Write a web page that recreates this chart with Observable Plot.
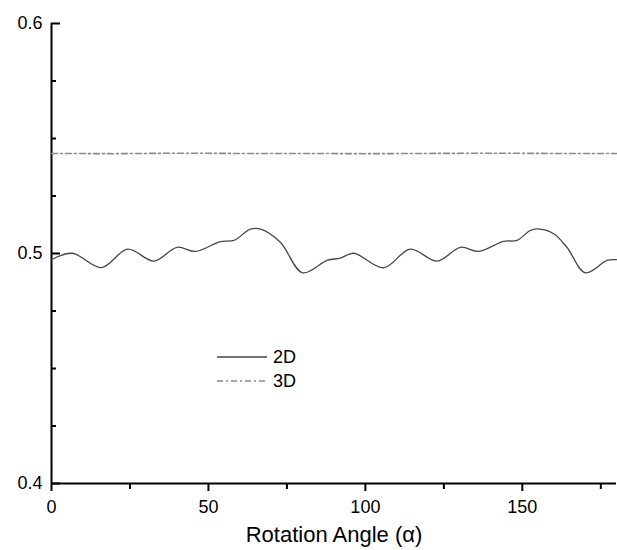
<!DOCTYPE html>
<html>
<head>
<meta charset="utf-8">
<script src="https://cdn.jsdelivr.net/npm/d3@7"></script>
<script src="https://cdn.jsdelivr.net/npm/@observablehq/plot@0.6"></script>
<style>
  html, body { margin: 0; padding: 0; background: #fff; }
  #wrap { position: relative; width: 617px; height: 550px; font-family: "Liberation Sans", Arial, sans-serif; }
  #legend { position: absolute; left: 217px; top: 345px; font-size: 18px; color: #000; }
  #legend .row { display: flex; align-items: center; height: 24px; }
  #legend svg { margin-right: 6px; }
</style>
</head>
<body>
<div id="wrap"><div id="chart"></div>
<div id="legend"></div></div>
<script>
// 2D curve: rotation angle (deg) and value
const angle2D = [0, 6.6, 15.9, 24.3, 32.6, 40.0, 45.9, 53.8, 58.1, 63.4, 66.6, 72.9, 80.0, 87.8, 92, 96.3, 105.8, 114.3, 122.8, 130.3, 136.1, 144.0, 148.3, 152.5, 154.7, 160, 164.2, 170.1, 177, 180];
const value2D = [0.4973, 0.5001, 0.4939, 0.5019, 0.4967, 0.5027, 0.5009, 0.5052, 0.5057, 0.5106, 0.5106, 0.5049, 0.4916, 0.4970, 0.4980, 0.5001, 0.4938, 0.5019, 0.4967, 0.5027, 0.5009, 0.5053, 0.5057, 0.5100, 0.5107, 0.5086, 0.5027, 0.4916, 0.4970, 0.4973];
// 3D curve
const angle3D = [0, 20, 40, 60, 80, 100, 120, 140, 160, 180];
const value3D = [0.5435, 0.5434, 0.5436, 0.5435, 0.5435, 0.5434, 0.5435, 0.5436, 0.5435, 0.5435];
// axes
const xMajor = [0, 50, 100, 150];
const xMinor = [25, 75, 125, 175];
const yMajor = [0.4, 0.5, 0.6];
const yMinor = [0.425, 0.45, 0.475, 0.525, 0.55, 0.575];
const seriesNames = ["2D", "3D"];
const xLabel = "Rotation Angle (α)";

const d2 = angle2D.map((a, i) => ({a, v: value2D[i]}));
const d3d = angle3D.map((a, i) => ({a, v: value3D[i]}));

const colors = {"2D": "#474747", "3D": "#8a8a8a"};
const dashes = {"2D": null, "3D": "6,3,2,3"};

const chart = Plot.plot({
  width: 617,
  height: 550,
  marginLeft: 51,
  marginRight: 1,
  marginTop: 23,
  marginBottom: 67,
  style: {fontFamily: "'Liberation Sans', Arial, sans-serif", fontSize: "18px", color: "#000", background: "#fff"},
  x: {domain: [0, 180]},
  y: {domain: [0.4, 0.6]},
  marks: [
    Plot.axisX({ticks: xMajor, tickSize: 8, tickPadding: 9, strokeWidth: 2, fontSize: 18, label: null}),
    Plot.axisX({ticks: [], tickSize: 0, fontSize: 22, label: xLabel, labelAnchor: "center", labelArrow: "none", labelOffset: 58}),
    Plot.axisX({ticks: xMinor, tickSize: 6, strokeWidth: 2, tickFormat: () => "", label: null}),
    Plot.axisY({ticks: yMajor, tickSize: 0, tickPadding: 9, fontSize: 18, label: null, tickFormat: d3.format(".1f")}),
    Plot.axisY({ticks: yMajor, tickSize: 9, dx: 9, strokeWidth: 2, tickFormat: () => "", label: null}),
    Plot.axisY({ticks: yMinor, tickSize: 5, dx: 5, strokeWidth: 2, tickFormat: () => "", label: null}),
    Plot.ruleY([0.4], {stroke: "#000", strokeWidth: 2}),
    Plot.ruleX([0], {stroke: "#000", strokeWidth: 2}),
    Plot.line(d3d, {x: "a", y: "v", stroke: colors["3D"], strokeWidth: 1.6, strokeDasharray: dashes["3D"]}),
    Plot.line(d2, {x: "a", y: "v", stroke: colors["2D"], strokeWidth: 1.3, curve: "catmull-rom"})
  ]
});
document.getElementById("chart").appendChild(chart);

const legend = document.getElementById("legend");
seriesNames.forEach(name => {
  const row = document.createElement("div");
  row.className = "row";
  row.innerHTML = `<svg width="50" height="4"><line x1="0" x2="50" y1="2" y2="2" stroke="${colors[name]}" stroke-width="1.5" ${dashes[name] ? `stroke-dasharray="${dashes[name]}"` : ""}/></svg><span>${name}</span>`;
  legend.appendChild(row);
});
</script>
</body>
</html>
